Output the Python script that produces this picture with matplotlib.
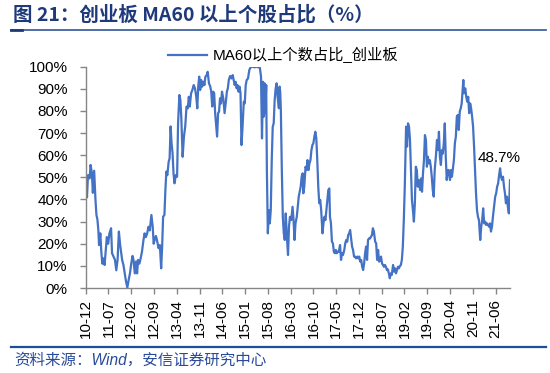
import matplotlib
matplotlib.use("Agg")
import matplotlib.pyplot as plt
from matplotlib.lines import Line2D

plt.rcParams['font.family'] = ['Liberation Sans', 'Noto Sans CJK SC', 'DejaVu Sans']

# ---- data: months since 2010-12 and share of ChiNext stocks above MA60 (%) ----
months = [
    0, 0.4, 0.7, 1.2, 1.5, 1.9, 2.2, 2.6, 3.0, 3.3, 3.6, 3.9, 4.1, 4.5, 4.8, 5.1, 5.5, 5.8, 6.1, 6.5,
    6.9, 7.3, 7.8, 8.1, 8.6, 9.0, 9.4, 9.8, 10.2, 10.6, 11.2, 11.6, 12.0, 12.4, 12.8, 13.2, 13.6, 14.0, 14.4, 14.7,
    15.1, 15.5, 15.8, 16.1, 16.5, 16.9, 17.3, 17.7, 18.1, 18.5, 18.9, 19.3, 19.7, 20.2, 20.6, 20.9, 21.3, 21.6, 22.0, 22.4,
    22.8, 23.2, 23.5, 23.8, 24.2, 24.5, 24.8, 25.1, 25.5, 25.8, 26.1, 26.4, 26.7, 27.0, 27.3, 27.7, 28.1, 28.4, 28.8, 29.1,
    29.4, 29.8, 30.2, 30.6, 31.0, 31.4, 31.7, 32.0, 32.4, 32.8,
    33.2, 33.6, 34.0, 34.3, 34.6, 34.9, 35.2, 35.5, 35.8, 36.2, 36.5, 36.8, 37.2, 37.5, 37.9, 38.3, 38.6, 38.9, 39.2, 39.5,
    39.8, 40.1, 40.4, 40.7, 41.0, 41.3, 41.6, 41.9, 42.3, 42.7, 43.1, 43.4, 43.7, 44.0, 44.4, 44.8, 45.2, 45.5, 45.8, 46.1,
    46.4, 46.7, 47.0, 47.3, 47.6, 47.9, 48.2, 48.6, 48.9, 49.2, 49.5, 49.9, 50.3, 50.7, 51.3, 52.0, 52.5, 53.0, 53.5, 53.9,
    54.2, 54.5, 54.7, 55.0, 55.2, 55.5, 55.7, 56.0, 56.3, 56.6, 56.9, 57.2, 57.5, 57.8, 58.1, 58.4, 58.7, 59.0, 59.4, 59.6,
    59.8, 60.0, 60.3, 60.6, 60.9, 61.2, 61.5, 61.8, 62.2, 62.5, 62.8, 63.2, 63.6, 63.9, 64.2, 64.5, 64.9, 65.2, 65.5,
    66.1, 66.4, 66.7, 66.9, 67.2, 67.6, 67.9, 68.2, 68.5, 68.8, 69.1, 69.4, 69.7, 70.0, 70.3, 70.6, 70.9, 71.2, 71.5, 71.8,
    72.1, 72.4, 72.8, 73.1, 73.4, 73.7, 74.0, 74.3, 74.6, 74.9, 75.1, 75.4, 75.7, 76.0, 76.3, 76.6, 76.9, 77.2, 77.5, 77.8,
    78.2, 78.5, 78.8, 79.1, 79.5, 79.8, 80.1, 80.4, 80.7, 81.0, 81.3, 81.6, 81.9, 82.2, 82.5, 82.8, 83.1, 83.5, 83.8, 84.1,
    84.4, 84.7, 85.0, 85.3, 85.6, 85.9, 86.2, 86.5, 86.8, 87.1, 87.4, 87.7, 88.0, 88.3, 88.6, 89.0, 89.3, 89.6, 89.9, 90.2,
    90.5, 90.8, 91.1, 91.4, 91.7, 92.0, 92.3, 92.6, 92.9, 93.2, 93.5, 93.8, 94.1, 94.5, 94.8, 95.1, 95.4, 95.7, 96.0, 96.3,
    96.6, 96.9, 97.2, 97.5, 97.8, 98.1,
    98.5, 98.8, 99.1, 99.4, 99.7, 100.0, 100.3, 100.6, 100.9, 101.2, 101.5, 101.8, 102.1, 102.4, 102.8, 103.1, 103.4, 103.7,
    104.0, 104.3, 104.6, 104.9, 105.2, 105.5, 105.8, 106.1, 106.4, 106.7, 107.0, 107.3, 107.7, 108.0, 108.3, 108.6, 108.9,
    109.2, 109.5, 109.8, 110.1, 110.4, 110.7, 111.0, 111.3, 111.6, 112.0, 112.3, 112.6, 112.9, 113.2, 113.5, 113.8, 114.1,
    114.4, 114.7, 115.0, 115.3, 115.6, 115.9, 116.1, 116.3, 116.7, 117.0, 117.3, 117.6, 117.9, 118.2, 118.5, 118.8, 119.1,
    119.4, 119.7, 120.0, 120.3, 120.6, 120.9, 121.3, 121.6, 121.9, 122.2, 122.5, 122.8, 123.1, 123.4, 123.7, 124.0, 124.3,
    124.6, 124.9, 125.2, 125.5, 125.9, 126.2, 126.5, 126.8, 127.1, 127.4, 127.7, 128.0, 128.3, 128.6, 128.9, 129.2, 129.5,
    129.8, 130.1, 130.45,
]
share = [
    51.8, 41.0, 51.0, 49.5, 55.6, 52.0, 43.0, 53.0, 40.0, 33.0, 31.0, 26.0, 19.4, 24.7, 16.4, 11.0, 13.4, 10.4, 15.7, 23.0,
    20.0, 24.7, 27.0, 15.7, 14.0, 12.7, 8.0, 12.7, 25.5, 19.4, 12.7, 10.4, 6.6, 2.9, 0.2, 3.6, 6.6, 11.0, 14.5, 12.7,
    6.6, 12.0, 6.6, 12.7, 11.0, 13.4, 16.4, 21.0, 24.7, 23.0, 24.7, 27.7, 26.0, 33.0, 27.7, 20.0, 22.4, 23.5, 21.0, 18.0,
    19.4, 8.9, 18.7, 32.2, 33.0, 44.3, 52.6, 51.0, 57.0, 58.6, 73.0, 65.4, 61.0, 51.8, 47.3, 51.0, 50.3, 74.4, 87.2, 85.0,
    76.7, 59.3, 68.4, 73.0, 82.0, 81.2, 86.4, 82.0, 88.0, 89.5,
    91.7, 90.2, 86.4, 81.2, 91.0, 95.5, 89.5, 94.0, 91.0, 93.2, 91.7, 95.5, 96.2, 97.7, 92.5, 91.0, 88.7, 82.0, 88.7, 88.0,
    79.0, 73.6, 68.4, 79.0, 79.7, 85.7, 83.4, 88.7, 85.7, 79.0, 84.2, 88.7, 90.2, 94.0, 95.8, 94.7, 96.2, 94.0, 91.7, 93.2,
    90.2, 91.7, 88.7, 91.0, 88.0, 64.6, 72.1, 84.2, 83.4, 91.7, 94.0, 94.7, 98.5, 99.7, 100.0, 99.7, 100.0, 99.7, 100.0, 95.5,
    67.6, 93.2, 77.4, 92.5, 79.0, 91.7, 53.3, 24.7, 35.2, 29.2, 35.2, 57.8, 72.9, 74.4, 85.0, 90.2, 92.5, 86.4, 81.2, 91.0,
    88.7, 80.4, 53.3, 32.2, 24.7, 21.7, 33.7, 24.7, 14.9, 27.7, 32.2, 30.7, 36.7, 30.7, 21.7, 29.2, 32.2, 36.7, 41.3,
    45.8, 50.3, 51.8, 42.8, 45.8, 54.8, 53.3, 57.8, 53.3, 56.3, 57.8, 62.3, 64.6, 65.4, 68.4, 70.6, 67.6, 57.8, 45.8, 38.3,
    39.8, 35.2, 24.7, 29.2, 32.2, 30.7, 35.2, 39.8, 44.3, 45.0, 32.2, 29.2, 20.9, 20.2, 16.4, 15.7, 17.2, 15.7, 16.4, 16.4,
    19.4, 12.7, 15.7, 14.9, 17.2, 20.2, 21.7, 20.9, 23.9, 24.7, 26.2, 22.4, 18.7, 17.2, 14.2, 14.2, 13.4, 14.2, 13.4, 14.2,
    11.9, 12.7, 9.6, 8.1, 11.1, 15.7, 18.7, 12.7, 21.7, 22.4, 22.4, 23.2, 23.9, 27.0, 25.5, 20.9, 20.2, 12.7, 17.2, 11.9,
    12.7, 14.2, 11.1, 10.4, 9.6, 10.4, 9.6, 8.1, 8.4, 6.6, 4.4, 6.6, 5.9, 10.4, 7.4, 8.9, 6.6, 8.1, 9.6, 8.9,
    9.9, 10.4, 12.7, 18.7, 30.7, 45.8,
    72.9, 63.9, 74.4, 72.9, 66.9, 53.3, 39.8, 35.2, 30.0, 38.3, 54.8, 53.3, 45.8, 48.8, 44.3, 49.5, 43.5, 51.8,
    57.8, 69.1, 66.9, 54.8, 59.3, 56.3, 57.8, 54.8, 50.3, 44.3, 41.3, 53.3, 60.1, 66.9, 62.3, 70.6, 59.3,
    55.6, 62.3, 60.8, 65.4, 74.4, 59.3, 48.8, 53.3, 53.3, 48.8, 53.3, 50.3, 54.1, 57.8, 65.4, 68.4, 77.4,
    78.2, 71.4, 79.7, 81.2, 83.4, 89.5, 94.0, 88.0, 90.2, 86.4, 84.2, 86.4, 79.0, 83.4, 81.2, 77.4, 72.9,
    63.9, 53.3, 42.8, 35.2, 32.2, 30.7, 21.7, 27.7, 30.7, 36.0, 29.2, 30.0, 28.5, 29.2, 28.5, 27.7, 29.2,
    25.5, 27.7, 32.2, 36.0, 41.3, 42.8, 45.8, 47.3, 51.0, 54.1, 50.3, 48.8, 50.3, 45.8, 42.8, 38.3, 41.3,
    36.7, 33.7, 48.7,
]
tick_labels = ['10-12', '11-07', '12-02', '12-09', '13-04', '13-11', '14-06', '15-01', '15-08', '16-03',
               '16-10', '17-05', '17-12', '18-07', '19-02', '19-09', '20-04', '20-11', '21-06']
tick_step = 7  # months between labels
y_ticks = [0, 10, 20, 30, 40, 50, 60, 70, 80, 90, 100]
series_name = 'MA60以上个数占比_创业板'
last_label = '48.7%'

title = '图 21：创业板 MA60 以上个股占比（%）'
source = '资料来源：Wind，安信证券研究中心'

# ---- figure ----
W, H = 550, 373
fig = plt.figure(figsize=(W / 100, H / 100), dpi=100)
ax = fig.add_axes([85.7 / W, 1 - 288 / H, (510 - 85.7) / W, (288 - 66.7) / H])

line_color = '#4472C4'
ax.plot(months, share, color=line_color, lw=1.6, label=series_name, solid_joinstyle='round')

ax.set_xlim(0, months[-1])
ax.set_ylim(0, 100)
ax.set_yticks(y_ticks)
ax.set_yticklabels([f'{v}%' for v in y_ticks], fontsize=11)
ax.set_xticks([i * tick_step for i in range(len(tick_labels))])
ax.set_xticklabels(tick_labels, rotation=90, fontsize=11)

for s in ['top', 'right']:
    ax.spines[s].set_visible(False)
for s in ['left', 'bottom']:
    ax.spines[s].set_color('#868686')
    ax.spines[s].set_linewidth(1.0)
ax.tick_params(axis='both', direction='out', color='#868686', length=4, width=1.0)
ax.tick_params(axis='y', pad=9)
ax.tick_params(axis='x', pad=4)

ax.annotate(last_label, xy=(months[-1], share[-1]), xytext=(127.0, 58.7),
            textcoords='data', ha='center', va='center', fontsize=11, color='black')

leg = ax.legend(loc='center left', bbox_to_anchor=(168 / W, 1 - 55 / H),
                bbox_transform=fig.transFigure, frameon=False, fontsize=11,
                handlelength=2.55, handletextpad=0.35, borderpad=0, borderaxespad=0)

# header and footer
navy = '#1F3A7A'
fig.text(13 / W, 1 - 14.5 / H, title, fontsize=14, fontweight='bold', color=navy,
         va='center', ha='left', family=['Noto Sans CJK SC', 'DejaVu Sans'])
fig.add_artist(Line2D([11 / W, 546 / W], [1 - 29.5 / H] * 2, color='#2F5597', lw=1.2))
fig.add_artist(Line2D([11 / W, 22 / W], [1 - 29.5 / H] * 2, color='#1F3A7A', lw=2.0))
fig.add_artist(Line2D([11 / W, 546 / W], [1 - 346.7 / H] * 2, color='#1F4E99', lw=1.6))
fig.text(14 / W, 1 - 360.5 / H, source, fontsize=11.2, color='#2A4A9A', style='italic',
         va='center', ha='left', family=['Liberation Sans', 'Noto Sans CJK SC'])

fig.savefig('out.png', dpi=100)
